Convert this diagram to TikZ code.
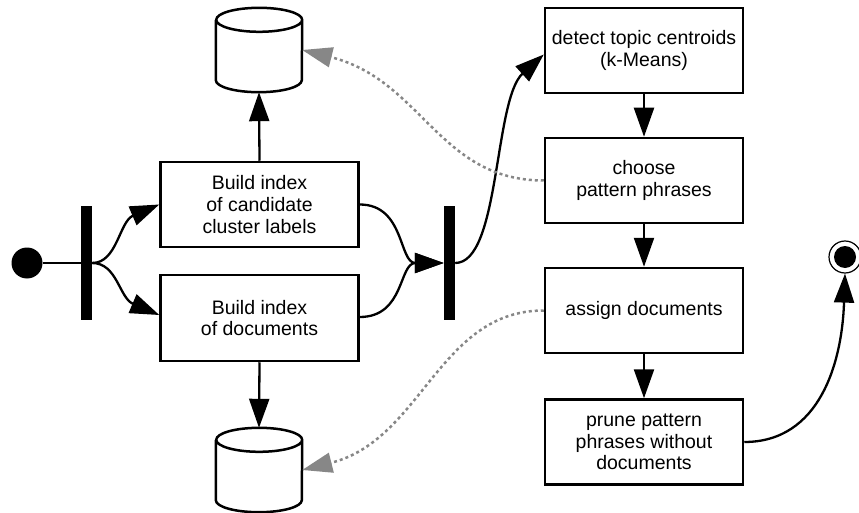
\documentclass[tikz,border=0pt]{standalone}
\usepackage{fontspec}
\setmainfont{Liberation Sans}
\usetikzlibrary{arrows.meta}

\tikzset{
  stepbox/.style={draw, line width=2.5pt, minimum width=198pt, minimum height=85pt,
    inner sep=0pt, align=center, font=\fontsize{19.5}{21.7}\selectfont},
  syncbar/.style={fill=black, minimum width=11pt, minimum height=113pt, inner sep=0pt},
  dbslot/.style={minimum width=86pt, minimum height=84pt, inner sep=0pt},
  cylline/.style={line width=2.5pt, line join=round},
  flow/.style={line width=2.3pt, -{Triangle[length=29pt,width=20pt]}},
  plain/.style={line width=2.3pt},
  dataflow/.style={line width=2.5pt, color=black!47, dash pattern=on 3pt off 3pt,
    -{Triangle[length=30pt,width=20pt]}},
}

\begin{document}
\begin{tikzpicture}[x=1pt,y=-1pt]
\useasboundingbox (0,0) rectangle (859,513);

% start and end states
\node[circle, fill=black, minimum size=31pt, inner sep=0pt] (start) at (27,263) {};
\node[circle, draw, line width=1.2pt, minimum size=32pt, inner sep=0pt] (stop) at (845,257) {};
\fill (stop.center) circle[radius=11pt];

% fork and join bars
\node[syncbar] (fork) at (86.5,263) {};
\node[syncbar] (join) at (449.5,263) {};

% indexing activities
\node[stepbox] (b1) at (259.5,204.5) {Build index\\of candidate\\cluster labels};
\node[stepbox, minimum height=86pt] (b2) at (259.5,318) {Build index\\of documents};

% clustering activities
\node[stepbox] (d1) at (644,50.5) {detect topic centroids\\(k-Means)};
\node[stepbox] (d2) at (644,180.5) {choose\\pattern phrases};
\node[stepbox] (d3) at (644,310.5) {assign documents};
\node[stepbox] (d4) at (644,442) {prune pattern\\phrases without\\documents};

% index stores (cylinders)
\node[dbslot] (db1) at (259,50) {};
\node[dbslot] (db2) at (259,470) {};
\foreach \db in {db1,db2}{
  \draw[cylline, fill=white]
    ([yshift=-12pt]\db.north west) -- ([yshift=12pt]\db.south west)
    arc[start angle=180, end angle=360, x radius=43pt, y radius=12pt]
    -- ([yshift=-12pt]\db.north east)
    arc[start angle=0, end angle=180, x radius=43pt, y radius=12pt]
    arc[start angle=180, end angle=360, x radius=43pt, y radius=12pt];
}

% control flow
\draw[plain] (start) -- (fork);
\draw[flow] (fork.east) .. controls +(25,0) and +(-40,17) .. (b1.west);
\draw[flow] (fork.east) .. controls +(25,0) and +(-40,-17) .. ([yshift=3pt]b2.west);
\draw[flow] (b1.east) .. controls +(45,0) and +(-45,0) .. (join.west);
\draw[flow] ([yshift=1pt]b2.east) .. controls +(45,0) and +(-45,0) .. (join.west);
\draw[flow] (b1.north) -- (db1.south);
\draw[flow] (b2.south) -- (db2.north);
\draw[flow] (join.east) .. controls +(45,0) and +(-50,45) .. ([yshift=-4pt]d1.west);
\draw[flow] (d1.south) -- (d2.north);
\draw[flow] (d2.south) -- (d3.north);
\draw[flow] (d3.south) -- (d4.north);
\draw[flow] (d4.east) .. controls +(75,0) and +(-3,90) .. (stop.south);

% data flow to the index stores
\draw[dataflow] (d2.west) .. controls +(-105,0) and +(120,30) .. (db1.east);
\draw[dataflow] (d3.west) .. controls +(-105,0) and +(120,-30) .. (db2.east);
\end{tikzpicture}
\end{document}
